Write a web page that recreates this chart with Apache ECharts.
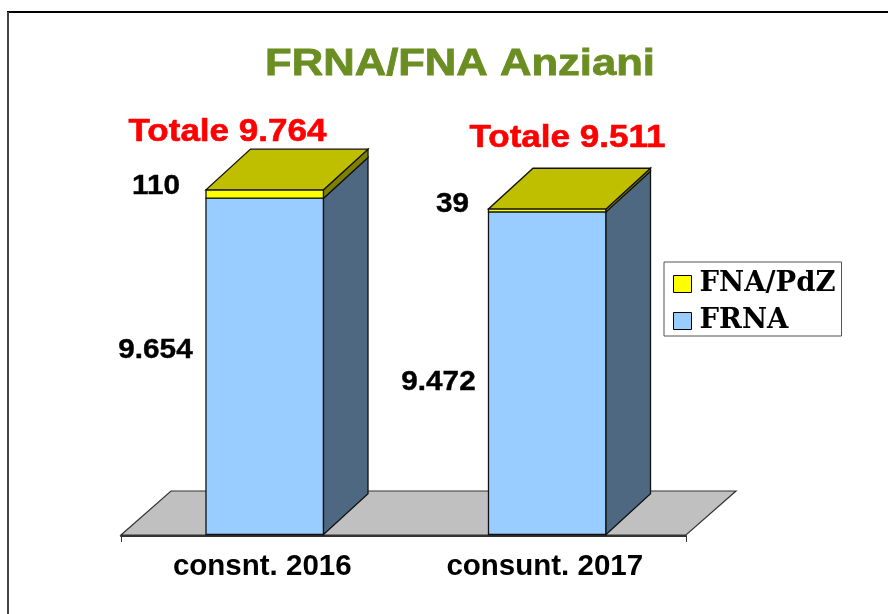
<!DOCTYPE html>
<html><head><meta charset="utf-8">
<style>html,body{margin:0;padding:0;background:#fff}#c{width:888px;height:614px}</style>
<script src="https://cdn.jsdelivr.net/npm/echarts@6/dist/echarts.min.js"></script>
</head><body><div id="c"></div>
<script>
const categories = ['consnt. 2016', 'consunt. 2017'];
const frna = [9654, 9472];
const fnaPdz = [110, 39];
const totals = [9764, 9511];
const axisMin = 5200;
const axisMax = 11000;
const chartTitle = 'FRNA/FNA Anziani';

const fmt = v => String(v).replace(/\B(?=(\d{3})+$)/g, '.');
const chart = echarts.init(document.getElementById('c'), null, {renderer: 'canvas'});
const DX = 44.5, DY = -40.7, BAR = 0.416, SHIFT = 2.5;
const SANS = '"Liberation Sans", Arial, sans-serif';
const LAB = {font: 'bold 27px ' + SANS, fill: '#000', stroke: '#000', lineWidth: 0.4};
const RED = {font: 'bold 31px ' + SANS, fill: '#f00', stroke: '#f00', lineWidth: 0.6};
const stroke = {stroke: '#111', lineWidth: 1.3};

function poly(points, fill, s) {
  return {type: 'polygon', shape: {points}, style: Object.assign({fill}, s || stroke)};
}
function box(api) {
  const i = api.value(0), w = api.size([1, 0])[0] * BAR;
  const a = api.coord([i, api.value(1)]), b = api.coord([i, api.value(2)]);
  return {l: a[0] - w / 2 + SHIFT, r: a[0] + w / 2 + SHIFT, y0: a[1], y1: b[1]};
}
function text(s, x, y, st, sx) {
  return {type: 'text', x, y, scaleX: sx, scaleY: 1,
    style: Object.assign({text: s, align: 'center', verticalAlign: 'middle'}, st)};
}
function barItem(front, side, topFace, offs) {
  return function (params, api) {
    const b = box(api);
    const i = api.value(0);
    const kids = [
      poly([[b.l, b.y0], [b.r, b.y0], [b.r, b.y1], [b.l, b.y1]], front),
      poly([[b.r, b.y0], [b.r + DX, b.y0 + DY], [b.r + DX, b.y1 + DY], [b.r, b.y1]], side)
    ];
    if (topFace) {
      kids.push(poly([[b.l, b.y1], [b.r, b.y1], [b.r + DX, b.y1 + DY], [b.l + DX, b.y1 + DY]], topFace));
    }
    const o = offs[i];
    kids.push(text(fmt(api.value(3)), b.l + o[0], (b.y0 + b.y1) / 2 + o[1], LAB, 1.1));
    if (topFace) {
      kids.push(text('Totale ' + fmt(api.value(4)), b.l + o[2], b.y1 + o[3], RED, 1.13));
    }
    return {type: 'group', children: kids};
  };
}
const baseData = frna.map((v, i) => [i, axisMin, v, v]);
const topData = fnaPdz.map((v, i) => [i, frna[i], frna[i] + v, v, totals[i]]);

chart.setOption({
  animation: false,
  grid: {left: 121, right: 202, top: 96.5, bottom: 79.5},
  xAxis: {
    type: 'category', data: categories, offset: 1.5,
    axisLine: {show: true, lineStyle: {color: '#333', width: 2}},
    axisTick: {show: true, length: 6, interval: i => i !== 1, lineStyle: {color: '#333', width: 1}},
    axisLabel: {color: '#000', fontSize: 29.5, fontWeight: 'bold', fontFamily: SANS, margin: 15.5, interval: 0}
  },
  yAxis: {type: 'value', min: axisMin, max: axisMax, show: false, splitLine: {show: false}},
  legend: {
    orient: 'vertical', left: 664, top: 262,
    data: ['FNA/PdZ', 'FRNA'], icon: 'rect', itemWidth: 18, itemHeight: 17, itemGap: 9,
    padding: [8, 6, 1, 9], borderColor: '#555', borderWidth: 1, backgroundColor: '#fff',
    itemStyle: {borderColor: '#000', borderWidth: 1},
    textStyle: {color: '#000', fontSize: 27.5, lineHeight: 22, fontWeight: 'bold', fontFamily: '"DejaVu Serif", serif', padding: [0, 0, 0, 3]}
  },
  series: [
    {
      type: 'custom', name: 'floor', silent: true, data: [[0]], z: 1,
      renderItem(params) {
        const c = params.coordSys, y = c.y + c.height + 0.5;
        return poly([[c.x, y], [c.x + c.width, y], [c.x + c.width + 50, y - 44], [c.x + 50, y - 44]], '#C0C0C0',
          {stroke: '#333', lineWidth: 1.2});
      }
    },
    {
      type: 'custom', name: 'FRNA', data: baseData, z: 2, itemStyle: {color: '#99CCFF'},
      encode: {x: 0, y: [1, 2]},
      renderItem: barItem('#99CCFF', '#4D6880', null, [[-50.5, -16], [-50, 9]])
    },
    {
      type: 'custom', name: 'FNA/PdZ', data: topData, z: 3, itemStyle: {color: '#FFFF00'},
      encode: {x: 0, y: [1, 2]},
      renderItem: barItem('#FFFF00', '#808000', '#BFBF00', [[-50, -7, 21.5, -57], [-36, -5.5, 79, -70]])
    }
  ],
  graphic: [
    {type: 'text', silent: true, x: 460, y: 65, scaleX: 1.178, z: 10,
      style: {text: chartTitle, align: 'center', verticalAlign: 'middle', fill: '#6B8E23', stroke: '#6B8E23', lineWidth: 0.8, font: 'bold 37px ' + SANS}},
    {type: 'line', silent: true, shape: {x1: 7, y1: 12, x2: 888, y2: 12}, style: {stroke: '#000', lineWidth: 2}},
    {type: 'line', silent: true, shape: {x1: 8, y1: 12, x2: 8, y2: 614}, style: {stroke: '#444', lineWidth: 2}}
  ]
});
</script></body></html>
